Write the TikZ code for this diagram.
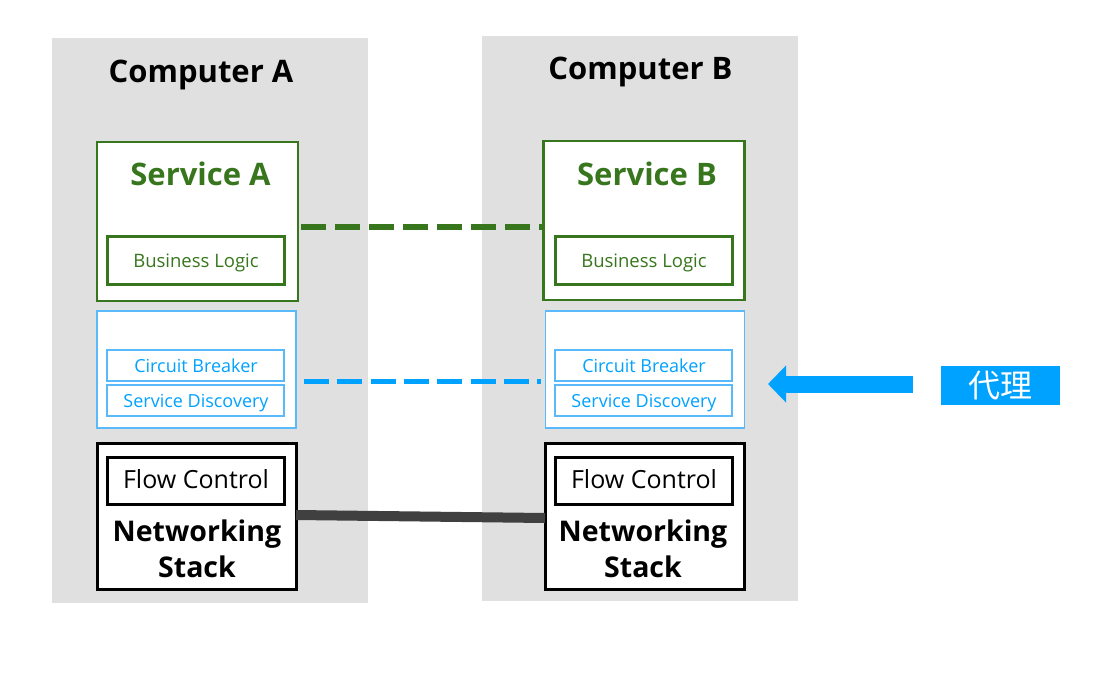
\documentclass[tikz,border=0pt]{standalone}
\usepackage{fontspec}
\setmainfont{Open Sans}
\newfontfamily\cjk{Noto Sans CJK SC}
\usetikzlibrary{arrows.meta}
\definecolor{panelgray}{RGB}{224,224,224}
\definecolor{svgreen}{RGB}{56,118,29}
\definecolor{svblue}{RGB}{0,162,255}
\definecolor{lineblue}{RGB}{90,185,250}
\definecolor{darkline}{RGB}{64,64,64}
\tikzset{
  panel/.style={fill=panelgray, inner sep=0pt, outer sep=0pt},
  lbl/.style={inner sep=0pt, anchor=base},
  title/.style={lbl, font=\fontsize{31}{36}\selectfont\bfseries},
  greenbox/.style={draw=svgreen, line width=2.7pt, fill=white, inner sep=0pt, outer sep=0pt, minimum width=201pt, minimum height=159pt},
  gtitle/.style={lbl, font=\fontsize{31}{36}\selectfont\bfseries, text=svgreen},
  bizbox/.style={draw=svgreen, line width=3pt, inner sep=0pt, outer sep=0pt, minimum width=177pt, minimum height=48pt},
  biztext/.style={lbl, text=svgreen, font=\fontsize{18.5}{22}\selectfont},
  bluebox/.style={draw=lineblue, line width=1.2pt, fill=white, inner sep=0pt, outer sep=0pt, minimum width=199pt, minimum height=117pt},
  smallblue/.style={draw=lineblue, line width=1.2pt, inner sep=0pt, outer sep=0pt, minimum width=177pt, minimum height=31pt},
  bluetext/.style={lbl, text=svblue, font=\fontsize{18}{22}\selectfont},
  blackbox/.style={draw=black, line width=3pt, fill=white, inner sep=0pt, outer sep=0pt, minimum width=199pt, minimum height=146pt},
  flowbox/.style={draw=black, line width=3pt, inner sep=0pt, outer sep=0pt, minimum width=177pt, minimum height=47pt},
  flowtext/.style={lbl, font=\fontsize{25}{30}\selectfont},
  nstext/.style={lbl, font=\fontsize{28.5}{34}\selectfont\bfseries},
}
\begin{document}
\begin{tikzpicture}[x=1pt,y=-1pt]
\useasboundingbox (0,0) rectangle (1109,683);
% panels
\node[panel, minimum width=316pt, minimum height=565pt] (pa) at (210,320.5) {};
\node[panel, minimum width=316pt, minimum height=565pt] (pb) at (640,318.5) {};
\node[title] (ta) at (201,82) {Computer A};
\node[title] (tb) at (640.5,79) {Computer B};
% service boxes
\node[greenbox] (sa) at (197.5,221.5) {};
\node[greenbox] (sb) at (644,220.5) {};
\node[gtitle] (saT) at (200.5,185) {Service A};
\node[gtitle] (sbT) at (647,185) {Service B};
\node[bizbox] (blA) at (195.5,260) {};
\node[bizbox] (blB) at (643.5,260) {};
\node[biztext] (blAT) at (196,267) {Business Logic};
\node[biztext] (blBT) at (644,267) {Business Logic};
% sidecar boxes
\node[bluebox] (sdA) at (196.5,369.5) {};
\node[bluebox] (sdB) at (645,369.5) {};
\node[smallblue] (cbA) at (195.5,365.5) {};
\node[smallblue] (cbB) at (643.5,365.5) {};
\node[smallblue] (dsA) at (195.5,400.5) {};
\node[smallblue] (dsB) at (643.5,400.5) {};
\node[bluetext] (cbAT) at (196,372) {Circuit Breaker};
\node[bluetext] (cbBT) at (644,372) {Circuit Breaker};
\node[bluetext] (dsAT) at (196,407) {Service Discovery};
\node[bluetext] (dsBT) at (644,407) {Service Discovery};
% networking boxes
\node[blackbox] (nsA) at (196.5,516) {};
\node[blackbox] (nsB) at (644.5,516) {};
\node[flowbox] (fcA) at (195.5,480.5) {};
\node[flowbox] (fcB) at (643.5,480.5) {};
\node[flowtext] (fcAT) at (196,488) {Flow Control};
\node[flowtext] (fcBT) at (644,488) {Flow Control};
\node[nstext] (ntA1) at (197,541) {Networking};
\node[nstext] (ntA2) at (197,577) {Stack};
\node[nstext] (ntB1) at (643,541) {Networking};
\node[nstext] (ntB2) at (643,577) {Stack};
% connectors
\draw[svgreen, line width=6pt, dash pattern=on 25pt off 9pt] ([xshift=3pt,yshift=-5.5pt]sa.east) -- ([xshift=-2pt,yshift=-6.5pt]sb.west);
\draw[svblue, line width=5pt, dash pattern=on 25pt off 8.3pt] ([xshift=8pt,yshift=-11.5pt]sdA.east) -- ([xshift=-5pt,yshift=-11.5pt]sdB.west);
\draw[darkline, line width=10pt] ([yshift=1pt]nsA.east) -- ([yshift=-2pt]nsB.west);
% proxy label and arrow
\node[fill=svblue, text=white, inner sep=0pt, minimum width=119pt, minimum height=39pt, font=\cjk\fontsize{32}{34}\selectfont] (px) at (1000.5,385.5) {代理};
\coordinate (arrS) at ([xshift=-28pt,yshift=1.5pt]px.west);
\coordinate (arrE) at (768,384);
\draw[svblue, line width=17pt, -{Triangle[length=18pt,width=36pt]}] (arrS) -- (arrE);
\end{tikzpicture}
\end{document}
